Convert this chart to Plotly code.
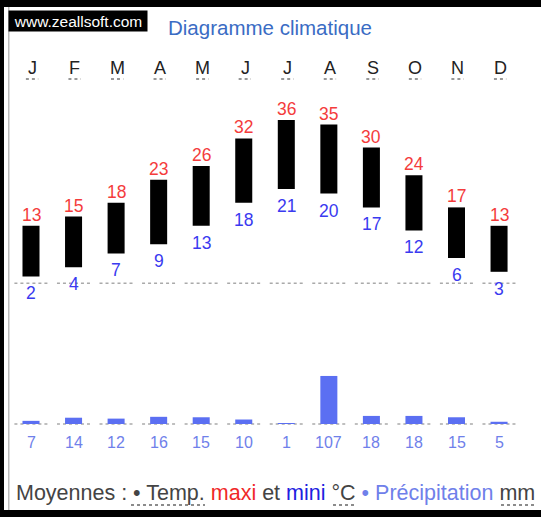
import plotly.graph_objects as go

months = ["J", "F", "M", "A", "M", "J", "J", "A", "S", "O", "N", "D"]
tmax = [13, 15, 18, 23, 26, 32, 36, 35, 30, 24, 17, 13]
tmin = [2, 4, 7, 9, 13, 18, 21, 20, 17, 12, 6, 3]
precip = [7, 14, 12, 16, 15, 10, 1, 107, 18, 18, 15, 5]

W, H = 541, 517
FONT = "Liberation Sans, Arial, sans-serif"
RED = "#f43c3c"
BLUE = "#3a3af0"
PBLUE = "#6f80ea"
PBAR = "#5b6ff2"

# axis geometry (pixels)
x0px, dxpx = 31.0, 42.55
xa = -x0px / dxpx
xb = xa + W / dxpx
t0px, tpx = 285.6, 4.6
p0px, ppx = 424.0, 0.449

idx = list(range(len(months)))

fig = go.Figure()
fig.add_trace(go.Bar(
    x=idx, y=[a - b for a, b in zip(tmax, tmin)], base=tmin,
    width=0.4, marker=dict(color="black", line=dict(width=0)),
    yaxis="y", hoverinfo="skip"))
fig.add_trace(go.Bar(
    x=idx, y=precip, width=0.4,
    marker=dict(color=PBAR, line=dict(width=0)),
    yaxis="y2", hoverinfo="skip"))

ann = []
shapes = []
for i in idx:
    ann.append(dict(x=i, y=tmax[i], xref="x", yref="y", text=str(tmax[i]),
                    showarrow=False, yanchor="middle", yshift=11,
                    font=dict(family=FONT, size=17.5, color=RED)))
    ann.append(dict(x=i, y=tmin[i], xref="x", yref="y", text=str(tmin[i]),
                    showarrow=False, yanchor="middle", yshift=-17,
                    font=dict(family=FONT, size=17.5, color=BLUE)))
    ann.append(dict(x=i, y=0, xref="x", yref="y2", text=str(precip[i]),
                    showarrow=False, yanchor="middle", yshift=-18,
                    font=dict(family=FONT, size=16, color=PBLUE)))
    ann.append(dict(x=i + 0.03, y=1 - 68 / H, xref="x", yref="paper", text=months[i],
                    showarrow=False, yanchor="middle",
                    font=dict(family=FONT, size=18, color="#222222")))
    # dotted baselines
    shapes.append(dict(type="line", xref="x", yref="y", x0=i - 0.39, x1=i + 0.39,
                       y0=0.5, y1=0.5, line=dict(color="#aaaaaa", width=1.5, dash="dot")))
    shapes.append(dict(type="line", xref="x", yref="y2", x0=i - 0.39, x1=i + 0.39,
                       y0=0, y1=0, line=dict(color="#aaaaaa", width=1.5, dash="dot"),
                       layer="below"))
    # dotted underline of month letters
    shapes.append(dict(type="line", xref="x", yref="paper", x0=i - 0.12, x1=i + 0.17,
                       y0=1 - 79 / H, y1=1 - 79 / H,
                       line=dict(color="#777777", width=1.5, dash="dot")))

# title and watermark
ann.append(dict(x=270 / W, y=1 - 28 / H, xref="paper", yref="paper",
                text="Diagramme climatique", showarrow=False,
                xanchor="center", yanchor="middle",
                font=dict(family=FONT, size=20.5, color="#3a6cc4")))
ann.append(dict(x=8 / W, y=1 - 10 / H, xref="paper", yref="paper", xanchor="left", yanchor="top",
                text="www.zeallsoft.com", showarrow=False, bgcolor="black",
                width=134, height=16, borderpad=2,
                font=dict(family="Liberation Sans Narrow, Arial Narrow, sans-serif", size=15.5, color="white")))
# footer
footer = ("<span style='color:#444444'>Moyennes : • Temp.</span> "
          "<span style='color:#f02828'>maxi</span> "
          "<span style='color:#444444'>et</span> "
          "<span style='color:#2020e0'>mini</span> "
          "<span style='color:#444444'>°C</span> "
          "<span style='color:#6f80ea'>• Précipitation</span> "
          "<span style='color:#444444'>mm</span>")
ann.append(dict(x=14 / W, y=1 - 493 / H, xref="paper", yref="paper", xanchor="left",
                yanchor="middle", text=footer, showarrow=False,
                font=dict(family=FONT, size=21.5, color="#444444")))

# frame
def px_rect(x0, y0, x1, y1, color):
    return dict(type="rect", xref="paper", yref="paper",
                x0=x0 / W, x1=x1 / W, y0=1 - y0 / H, y1=1 - y1 / H,
                fillcolor=color, line=dict(width=0), layer="above")

shapes.append(px_rect(0, 0, W, 7, "black"))
shapes.append(px_rect(0, 0, 4, H, "black"))
shapes.append(px_rect(0, 510, W, H, "black"))
shapes.append(px_rect(8, 7, 9.5, 510, "#bbbbbb"))
# dotted underlines in footer
for ux0, ux1 in [(131, 205), (333, 355), (501, 535)]:
    shapes.append(dict(type="line", xref="paper", yref="paper", x0=ux0 / W, x1=ux1 / W,
                       y0=1 - 505 / H, y1=1 - 505 / H,
                       line=dict(color="#666666", width=1.5, dash="dot")))

fig.update_layout(
    width=W, height=H, margin=dict(l=0, r=0, t=0, b=0),
    paper_bgcolor="white", plot_bgcolor="white",
    showlegend=False, barmode="overlay",
    xaxis=dict(range=[xa, xb], visible=False, fixedrange=True),
    yaxis=dict(range=[-(H - t0px) / tpx, t0px / tpx], visible=False),
    yaxis2=dict(range=[-(H - p0px) / ppx, p0px / ppx], visible=False,
                overlaying="y"),
    annotations=ann, shapes=shapes,
)
fig.write_html("out.html", config={"displayModeBar": False},
               post_script="document.body.style.margin='0';document.body.style.overflow='hidden';")
